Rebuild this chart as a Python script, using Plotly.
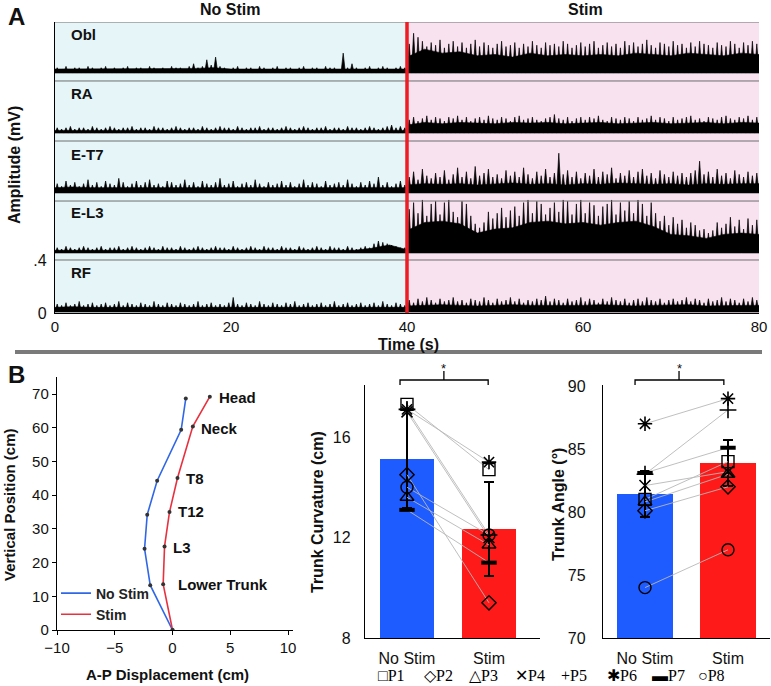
import plotly.graph_objects as go

W, H = 771, 686
def fx(p): return p / W
def fy(p): return 1 - p / H

# ======================= DATA =======================
# ---- Panel A: EMG (mV above each channel baseline) ----
emg_channels = ["Obl", "RA", "E-T7", "E-L3", "RF"]
time_ticks = [0, 20, 40, 60, 80]
amp_ticks = [0, 0.4]
amp_tick_text = ["0", ".4"]

body_t_ns = list(range(0, 41, 2))
body_t_st = list(range(40, 81, 2))
peak_t_ns = [0.25 + 0.5 * i for i in range(80)]
peak_t_st = [40.25 + 0.5 * i for i in range(80)]

obl_ns_body = [0.03,0.03,0.03,0.03,0.03,0.03,0.03,0.03,0.035,0.04,0.03,0.03,0.03,0.03,0.03,0.03,0.03,0.035,0.03,0.03,0.03]
obl_ns_peak = [0.04,0.03,0.05,0.03,0.04,0.04,0.03,0.05,0.04,0.03,
               0.04,0.05,0.03,0.04,0.03,0.04,0.05,0.03,0.04,0.04,
               0.03,0.05,0.04,0.03,0.04,0.03,0.05,0.04,0.04,0.03,
               0.05,0.07,0.04,0.05,0.10,0.06,0.12,0.05,0.04,0.03,
               0.04,0.05,0.03,0.04,0.04,0.03,0.05,0.04,0.03,0.04,
               0.05,0.03,0.04,0.04,0.03,0.04,0.05,0.03,0.04,0.04,
               0.03,0.05,0.04,0.04,0.03,0.15,0.04,0.07,0.04,0.03,
               0.04,0.05,0.03,0.04,0.05,0.04,0.03,0.04,0.05,0.04]
obl_st_body = [0.12,0.18,0.15,0.16,0.13,0.14,0.12,0.15,0.13,0.14,0.13,0.14,0.13,0.15,0.14,0.13,0.15,0.14,0.13,0.15,0.14]
obl_st_peak = [0.22,0.30,0.27,0.24,0.20,0.23,0.21,0.25,0.19,0.22,
               0.24,0.20,0.23,0.19,0.22,0.25,0.20,0.23,0.21,0.19,
               0.22,0.24,0.20,0.21,0.23,0.19,0.22,0.20,0.24,0.21,
               0.19,0.23,0.21,0.22,0.20,0.24,0.22,0.19,0.21,0.23,
               0.20,0.22,0.24,0.19,0.21,0.23,0.20,0.22,0.19,0.24,
               0.21,0.23,0.20,0.22,0.25,0.21,0.19,0.23,0.22,0.20,
               0.24,0.21,0.22,0.19,0.23,0.20,0.24,0.22,0.21,0.19,
               0.23,0.21,0.20,0.24,0.22,0.19,0.23,0.21,0.24,0.22]

ra_ns_body = [0.02,0.02,0.02,0.02,0.02,0.02,0.02,0.02,0.02,0.02,0.02,0.02,0.02,0.02,0.02,0.02,0.02,0.02,0.02,0.02,0.02]
ra_ns_peak = [0.04,0.03,0.04,0.05,0.03,0.04,0.04,0.03,0.05,0.04,
              0.03,0.04,0.05,0.04,0.03,0.04,0.04,0.05,0.03,0.04,
              0.04,0.03,0.05,0.04,0.04,0.03,0.04,0.05,0.04,0.03,
              0.04,0.04,0.03,0.05,0.04,0.03,0.04,0.05,0.04,0.04,
              0.03,0.05,0.04,0.03,0.04,0.04,0.05,0.03,0.04,0.04,
              0.03,0.04,0.05,0.04,0.03,0.04,0.05,0.04,0.03,0.04,
              0.04,0.05,0.03,0.04,0.04,0.03,0.05,0.04,0.04,0.03,
              0.04,0.05,0.04,0.03,0.04,0.05,0.06,0.04,0.05,0.04]
ra_st_body = [0.06,0.08,0.07,0.08,0.075,0.07,0.08,0.075,0.08,0.07,0.075,0.08,0.07,0.075,0.08,0.07,0.075,0.08,0.07,0.08,0.075]
ra_st_peak = [0.10,0.12,0.09,0.11,0.13,0.10,0.12,0.11,0.09,0.12,
              0.11,0.13,0.10,0.12,0.09,0.11,0.12,0.10,0.13,0.11,
              0.10,0.12,0.11,0.09,0.12,0.13,0.10,0.11,0.12,0.10,
              0.09,0.11,0.12,0.14,0.11,0.10,0.12,0.09,0.11,0.12,
              0.10,0.12,0.11,0.13,0.10,0.09,0.12,0.11,0.10,0.12,
              0.11,0.09,0.12,0.10,0.11,0.13,0.10,0.12,0.11,0.09,
              0.12,0.10,0.11,0.12,0.13,0.10,0.11,0.09,0.12,0.11,
              0.10,0.12,0.13,0.11,0.10,0.12,0.11,0.13,0.10,0.12]

et7_ns_body = [0.04,0.045,0.04,0.04,0.045,0.04,0.04,0.045,0.04,0.04,0.045,0.04,0.04,0.045,0.04,0.04,0.045,0.04,0.04,0.045,0.04]
et7_ns_peak = [0.07,0.05,0.09,0.06,0.08,0.05,0.07,0.10,0.06,0.08,
               0.05,0.09,0.07,0.06,0.11,0.08,0.05,0.07,0.09,0.06,
               0.08,0.10,0.06,0.07,0.05,0.09,0.08,0.06,0.07,0.10,
               0.06,0.08,0.05,0.09,0.07,0.06,0.08,0.11,0.06,0.07,
               0.09,0.05,0.07,0.08,0.06,0.10,0.07,0.05,0.08,0.06,
               0.07,0.09,0.06,0.08,0.05,0.07,0.10,0.06,0.08,0.07,
               0.05,0.09,0.06,0.07,0.08,0.06,0.10,0.07,0.05,0.08,
               0.06,0.09,0.07,0.12,0.06,0.08,0.05,0.07,0.09,0.06]
et7_st_body = [0.06,0.07,0.065,0.07,0.06,0.07,0.075,0.065,0.07,0.06,0.07,0.065,0.075,0.07,0.065,0.07,0.06,0.07,0.065,0.07,0.07]
et7_st_peak = [0.12,0.16,0.10,0.18,0.13,0.11,0.15,0.12,0.17,0.10,
               0.14,0.19,0.12,0.16,0.11,0.20,0.13,0.15,0.18,0.12,
               0.14,0.11,0.17,0.13,0.16,0.12,0.19,0.14,0.11,0.16,
               0.13,0.18,0.12,0.15,0.30,0.14,0.17,0.12,0.16,0.11,
               0.15,0.13,0.18,0.12,0.16,0.14,0.19,0.11,0.15,0.13,
               0.17,0.12,0.16,0.18,0.13,0.15,0.11,0.17,0.14,0.12,
               0.16,0.13,0.15,0.12,0.15,0.17,0.24,0.14,0.16,0.12,
               0.18,0.13,0.15,0.11,0.17,0.14,0.12,0.16,0.13,0.15]

el3_ns_body = [0.02,0.02,0.02,0.02,0.02,0.02,0.02,0.02,0.02,0.02,0.02,0.02,0.02,0.02,0.02,0.02,0.02,0.02,0.035,0.06,0.025]
el3_ns_peak = [0.04,0.03,0.05,0.04,0.03,0.04,0.05,0.04,0.03,0.04,
               0.05,0.03,0.04,0.04,0.05,0.03,0.04,0.05,0.04,0.03,
               0.04,0.05,0.04,0.03,0.05,0.04,0.04,0.03,0.05,0.04,
               0.03,0.04,0.05,0.04,0.03,0.04,0.05,0.04,0.04,0.03,
               0.05,0.04,0.03,0.04,0.05,0.04,0.03,0.05,0.04,0.04,
               0.03,0.05,0.04,0.04,0.03,0.05,0.04,0.03,0.04,0.05,
               0.04,0.03,0.05,0.04,0.04,0.03,0.05,0.04,0.03,0.04,
               0.05,0.04,0.07,0.09,0.08,0.07,0.06,0.05,0.04,0.04]
el3_st_body = [0.17,0.23,0.24,0.22,0.15,0.18,0.19,0.23,0.24,0.22,0.23,0.21,0.23,0.24,0.20,0.14,0.13,0.11,0.14,0.15,0.14]
el3_st_peak = [0.33,0.38,0.30,0.40,0.28,0.37,0.39,0.29,0.38,0.40,
               0.31,0.27,0.39,0.37,0.28,0.22,0.19,0.23,0.31,0.26,
               0.30,0.34,0.27,0.32,0.35,0.28,0.38,0.40,0.30,0.39,
               0.37,0.29,0.34,0.38,0.31,0.40,0.39,0.29,0.37,0.40,
               0.30,0.38,0.36,0.28,0.35,0.37,0.40,0.29,0.38,0.32,
               0.39,0.30,0.40,0.37,0.28,0.38,0.30,0.24,0.28,0.21,
               0.27,0.22,0.25,0.19,0.23,0.21,0.17,0.18,0.15,0.17,
               0.23,0.19,0.22,0.27,0.20,0.25,0.18,0.26,0.21,0.25]

rf_ns_body = [0.035,0.04,0.035,0.035,0.04,0.035,0.035,0.04,0.035,0.035,0.04,0.035,0.035,0.04,0.035,0.035,0.04,0.035,0.035,0.04,0.035]
rf_ns_peak = [0.06,0.05,0.07,0.05,0.06,0.08,0.05,0.06,0.07,0.05,
              0.06,0.07,0.05,0.06,0.08,0.05,0.07,0.06,0.05,0.07,
              0.06,0.05,0.08,0.06,0.05,0.07,0.06,0.05,0.07,0.06,
              0.05,0.06,0.08,0.05,0.06,0.07,0.05,0.06,0.05,0.07,
              0.11,0.06,0.05,0.07,0.06,0.05,0.08,0.06,0.05,0.07,
              0.06,0.05,0.07,0.06,0.08,0.05,0.06,0.07,0.05,0.06,
              0.07,0.05,0.06,0.08,0.05,0.06,0.07,0.05,0.06,0.07,
              0.05,0.06,0.07,0.05,0.08,0.06,0.05,0.07,0.06,0.05]
rf_st_body = [0.045,0.05,0.055,0.05,0.045,0.05,0.055,0.05,0.05,0.045,0.05,0.055,0.05,0.045,0.05,0.05,0.055,0.045,0.05,0.05,0.05]
rf_st_peak = [0.09,0.07,0.10,0.08,0.11,0.09,0.07,0.10,0.08,0.09,
              0.11,0.08,0.09,0.07,0.10,0.09,0.08,0.11,0.09,0.07,
              0.10,0.08,0.09,0.11,0.08,0.10,0.07,0.09,0.08,0.10,
              0.09,0.12,0.08,0.10,0.09,0.07,0.10,0.08,0.09,0.11,
              0.08,0.10,0.09,0.07,0.10,0.08,0.11,0.09,0.08,0.10,
              0.07,0.09,0.10,0.08,0.11,0.09,0.08,0.10,0.07,0.09,
              0.10,0.08,0.09,0.11,0.08,0.10,0.09,0.07,0.10,0.08,
              0.09,0.11,0.08,0.10,0.09,0.07,0.10,0.08,0.11,0.09]

# ---- Panel B left: A-P displacement profile ----
ap_nostim_x = [0, -1.93, -2.42, -2.19, -1.33, 0.75, 1.15]
ap_nostim_y = [0, 13.3, 24.1, 34.2, 44.3, 59.4, 68.7]
ap_stim_x = [0, -0.81, -0.69, -0.26, 0.43, 1.76, 3.23]
ap_stim_y = [0, 13.6, 24.8, 35.0, 45.1, 60.4, 69.2]
landmark_names = ["Lower Trunk", "L3", "T12", "T8", "Neck", "Head"]
ap_xticks = [-10, -5, 0, 5, 10]
ap_yticks = [0, 10, 20, 30, 40, 50, 60, 70]

# ---- Panel B middle / right ----
conditions = ["No Stim", "Stim"]
participants = ["P1", "P2", "P3", "P4", "P5", "P6", "P7", "P8"]
curv_mean = [15.13, 12.34]
curv_sd = [1.95, 1.88]
curv_nostim = [17.3, 14.5, 13.6, 17.0, 17.1, 17.1, 13.1, 14.0]
curv_stim = [14.7, 9.4, 11.7, 12.0, 12.1, 15.0, 11.0, 12.1]
angle_mean = [81.43, 83.9]
angle_sd = [1.8, 1.8]
angle_nostim = [81.0, 80.1, 80.8, 82.1, 83.0, 87.0, 83.1, 74.0]
angle_stim = [84.0, 82.0, 83.0, 83.2, 88.1, 89.0, 85.1, 77.0]
curv_ticks = [8, 12, 16]
angle_ticks = [70, 75, 80, 85, 90]

# ======================= STYLE / LAYOUT =======================
SANS = "Liberation Sans, Arial, sans-serif"
SERIF = "Liberation Serif, Times New Roman, serif"
BLUE_BAR = "#1f5cff"
RED_BAR = "#ff1a1a"
BLUE_LINE = "#3067e6"
RED_LINE = "#e8313f"

channel_offsets = [1.811, 1.358, 0.906, 0.453, 0.0075]
channel_seps = [0.4, 0.845, 1.298, 1.751, 2.196]
A_TOP = 2.196
HALF = 0.25  # half-width (s) of each drawn spike

emg_data = {
    "Obl": (obl_ns_body, obl_ns_peak, obl_st_body, obl_st_peak),
    "RA": (ra_ns_body, ra_ns_peak, ra_st_body, ra_st_peak),
    "E-T7": (et7_ns_body, et7_ns_peak, et7_st_body, et7_st_peak),
    "E-L3": (el3_ns_body, el3_ns_peak, el3_st_body, el3_st_peak),
    "RF": (rf_ns_body, rf_ns_peak, rf_st_body, rf_st_peak),
}

fig = go.Figure()

for ch, off in zip(emg_channels, channel_offsets):
    ns_body, ns_peak, st_body, st_peak = emg_data[ch]
    for tb, body, tp, peak in ((body_t_ns, ns_body, peak_t_ns, ns_peak),
                               (body_t_st, st_body, peak_t_st, st_peak)):
        # dense activity band
        xs = list(tb) + list(tb[::-1])
        ys = [off + b for b in body] + [off] * len(tb)
        fig.add_trace(go.Scatter(x=xs, y=ys, fill="toself", fillcolor="black",
                                 line=dict(color="black", width=0.6), mode="lines",
                                 hoverinfo="skip", showlegend=False,
                                 xaxis="x", yaxis="y"))
        # spikes: zig-zag from the channel baseline up to each peak
        sx, sy = [], []
        for t, p in zip(tp, peak):
            sx += [t - HALF, t]
            sy += [off, off + p]
        sx.append(tp[-1] + HALF)
        sy.append(off)
        fig.add_trace(go.Scatter(x=sx, y=sy, fill="toself", fillcolor="black",
                                 line=dict(color="black", width=0.7), mode="lines",
                                 hoverinfo="skip", showlegend=False,
                                 xaxis="x", yaxis="y"))

# ---- Panel B left ----
fig.add_trace(go.Scatter(x=ap_nostim_x, y=ap_nostim_y, mode="lines",
                         line=dict(color=BLUE_LINE, width=1.6), name="<b>No Stim</b>",
                         legend="legend2", xaxis="x2", yaxis="y2"))
fig.add_trace(go.Scatter(x=ap_stim_x, y=ap_stim_y, mode="lines",
                         line=dict(color=RED_LINE, width=1.6), name="<b>Stim</b>",
                         legend="legend2", xaxis="x2", yaxis="y2"))
for xs, ys in ((ap_nostim_x, ap_nostim_y), (ap_stim_x, ap_stim_y)):
    fig.add_trace(go.Scatter(x=xs, y=ys, mode="markers",
                             marker=dict(color="#333", size=4), showlegend=False,
                             hoverinfo="skip", xaxis="x2", yaxis="y2"))

# ---- Panel B middle & right: bars, error bars, participants ----
symbols = ["square-open", "diamond-open", "triangle-up-open", "x-thin-open",
           "cross-thin-open", "asterisk-open", "line-ew-open", "circle-open"]
symbol_glyphs = ["\u25a1", "\u25c7", "\u25b3", "\u2715", "+", "\u2731", "\u25ac", "\u25cb"]
sym_lw = [1.4, 1.4, 1.4, 1.6, 1.6, 1.6, 4, 1.4]
sym_size = [12, 11, 12, 11, 12, 12, 11, 12]

for (mean, sd, ns, st, xa, ya) in (
        (curv_mean, curv_sd, curv_nostim, curv_stim, "x3", "y3"),
        (angle_mean, angle_sd, angle_nostim, angle_stim, "x4", "y4")):
    fig.add_trace(go.Bar(x=[0, 1], y=mean, width=0.67,
                         marker=dict(color=[BLUE_BAR, RED_BAR], line=dict(width=0)),
                         error_y=dict(type="data", array=sd, color="black",
                                      thickness=2, width=5),
                         showlegend=False, xaxis=xa, yaxis=ya))
    for a, b in zip(ns, st):
        fig.add_trace(go.Scatter(x=[0, 1], y=[a, b], mode="lines",
                                 line=dict(color="#b8b8b8", width=0.9),
                                 showlegend=False, hoverinfo="skip",
                                 xaxis=xa, yaxis=ya))
    for i, p in enumerate(participants):
        fig.add_trace(go.Scatter(x=[0, 1], y=[ns[i], st[i]], mode="markers", name=p,
                                 marker=dict(symbol=symbols[i], size=sym_size[i],
                                             color="black",
                                             line=dict(width=sym_lw[i], color="black")),
                                 showlegend=False, xaxis=xa, yaxis=ya))

tickfont = dict(family=SANS, size=16, color="#111")
common = dict(showgrid=False, zeroline=False, showline=True, linecolor="black",
              automargin=False)

layout = dict(
    width=W, height=H, autosize=False,
    margin=dict(l=0, r=0, t=0, b=0, autoexpand=False),
    paper_bgcolor="white", plot_bgcolor="white",
    barmode="overlay", bargap=0,
    showlegend=True,
    font=dict(family=SANS, color="#111"),
    # Panel A
    xaxis=dict(domain=[fx(55), fx(759)], range=[0, 80], tickvals=time_ticks,
               linewidth=1, ticks="", tickfont=dict(family=SANS, size=15, color="#111"),
               anchor="y", **common),
    yaxis=dict(domain=[fy(313), fy(22)], range=[0, A_TOP], tickvals=amp_ticks,
               ticktext=amp_tick_text, linewidth=1.2, ticks="outside", ticklen=4,
               tickcolor="rgba(0,0,0,0)", tickfont=tickfont, anchor="x", **common),
    # Panel B left
    xaxis2=dict(domain=[fx(57), fx(293)], range=[-10, 10.43], tickvals=ap_xticks,
                linewidth=1.4, ticks="outside", ticklen=4, tickcolor="black",
                tickfont=dict(family=SANS, size=15, color="#111"), anchor="y2", **common),
    yaxis2=dict(domain=[fy(630), fy(377)], range=[0, 75.05], tickvals=ap_yticks,
                linewidth=1.4, ticks="outside", ticklen=4, tickcolor="black",
                tickfont=dict(family=SANS, size=15, color="#111"), anchor="x2", **common),
    # Panel B middle
    xaxis3=dict(domain=[fx(365), fx(540)], range=[-0.512, 1.622], tickvals=[0, 1],
                ticktext=conditions, linewidth=1.4, ticks="outside", ticklen=6,
                tickcolor="rgba(0,0,0,0)", tickfont=tickfont, anchor="y3", **common),
    yaxis3=dict(domain=[fy(638), fy(385)], range=[8, 18.07], tickvals=curv_ticks,
                linewidth=1.4, ticks="outside", ticklen=10, tickcolor="rgba(0,0,0,0)",
                tickfont=tickfont, anchor="x3", **common),
    # Panel B right
    xaxis4=dict(domain=[fx(603), fx(770)], range=[-0.506, 1.506], tickvals=[0, 1],
                ticktext=conditions, linewidth=1.4, ticks="outside", ticklen=6,
                tickcolor="rgba(0,0,0,0)", tickfont=tickfont, anchor="y4", **common),
    yaxis4=dict(domain=[fy(638), fy(385)], range=[70, 90.08], tickvals=angle_ticks,
                linewidth=1.4, ticks="outside", ticklen=13, tickcolor="rgba(0,0,0,0)",
                tickfont=tickfont, anchor="x4", **common),
    legend2=dict(x=fx(56), y=fy(604), xanchor="left", yanchor="middle",
                 font=dict(family=SANS, size=14, color="#222"), itemwidth=30,
                 bgcolor="rgba(0,0,0,0)", tracegroupgap=0,
                 itemclick=False, itemdoubleclick=False),
)

shapes = []
# Panel A backgrounds
shapes.append(dict(type="rect", xref="x", yref="y", x0=0, x1=40, y0=0, y1=A_TOP,
                   fillcolor="#e6f5f7", line=dict(width=0), layer="below"))
shapes.append(dict(type="rect", xref="x", yref="y", x0=40, x1=80, y0=0, y1=A_TOP,
                   fillcolor="#f9e2f0", line=dict(width=0), layer="below"))
for s in channel_seps:
    shapes.append(dict(type="line", xref="x", yref="y", x0=0, x1=80, y0=s, y1=s,
                       line=dict(color="#6e6e6e", width=1)))
shapes.append(dict(type="line", xref="x", yref="y", x0=40, x1=40, y0=0, y1=A_TOP,
                   line=dict(color="#ee1c24", width=3.5)))
# divider between panels
shapes.append(dict(type="line", xref="paper", yref="paper", x0=fx(15), x1=fx(762),
                   y0=fy(352), y1=fy(352), line=dict(color="#7a7a7a", width=4)))
# significance brackets
for xa, x0, x1, xm in (("x3", -0.085, 0.99, 0.45), ("x4", -0.12, 0.95, 0.41)):
    shapes.append(dict(type="path", xref=xa, yref="paper",
                       path=f"M {x0},{fy(385)} L {x0},{fy(380)} L {x1},{fy(380)} L {x1},{fy(385)}",
                       line=dict(color="black", width=1.3)))
    shapes.append(dict(type="line", xref=xa, yref="paper", x0=xm, x1=xm,
                       y0=fy(380), y1=fy(371), line=dict(color="black", width=1.3)))
layout["shapes"] = shapes

annotations = []
def ann(text, x, y, size=16, bold=True, family=SANS, angle=0, xanchor="center",
        xref="paper", yref="paper", color="#111"):
    annotations.append(dict(text=f"<b>{text}</b>" if bold else text, x=x, y=y,
                            xref=xref, yref=yref, showarrow=False, textangle=angle,
                            xanchor=xanchor, yanchor="middle", borderpad=0,
                            font=dict(family=family, size=size, color=color)))

ann("A", fx(16), fy(16), size=24)
ann("B", fx(16), fy(374), size=24)
ann("No Stim", fx(230), fy(9))
ann("Stim", fx(585), fy(9))
ann("Time (s)", fx(408), fy(344))
ann("Amplitude (mV)", fx(14), fy(165), angle=-90)
for ch, yy in zip(emg_channels, [34, 93, 154, 212, 272]):
    ann(ch, fx(70), fy(yy), size=15, xanchor="left")
ann("A-P Displacement (cm)", fx(167), fy(674), size=15)
ann("Vertical Position (cm)", fx(9), fy(505), size=15, angle=-90)
ann("Trunk Curvature (cm)", fx(317), fy(512), size=16, angle=-90)
ann("Trunk Angle (°)", fx(558), fy(505), size=16, angle=-90)
ann("*", fx(444), fy(369), size=13, bold=False)
ann("*", fx(679), fy(369), size=13, bold=False)
label_pos = [(0.35, 13.4), (-0.07, 24.6), (0.35, 35.3), (1.04, 44.8), (2.42, 59.9), (3.9, 69.1)]
for name, (lx, ly) in zip(landmark_names, label_pos):
    ann(name, lx, ly, size=15, xanchor="left", xref="x2", yref="y2")
# participant key (symbol glyph + label), as in the original figure
key_x = [377, 423, 468, 514, 560, 606, 651, 697]
for g, p, kx in zip(symbol_glyphs, participants, key_x):
    ann(f"{g}{p}", fx(kx), fy(675), size=16, bold=False, family=SERIF,
        xanchor="left", color="black")
layout["annotations"] = annotations

fig.update_layout(**layout)
fig.write_html("out.html", config={"displayModeBar": False},
               post_script="document.body.style.margin='0';document.body.style.overflow='hidden';")
